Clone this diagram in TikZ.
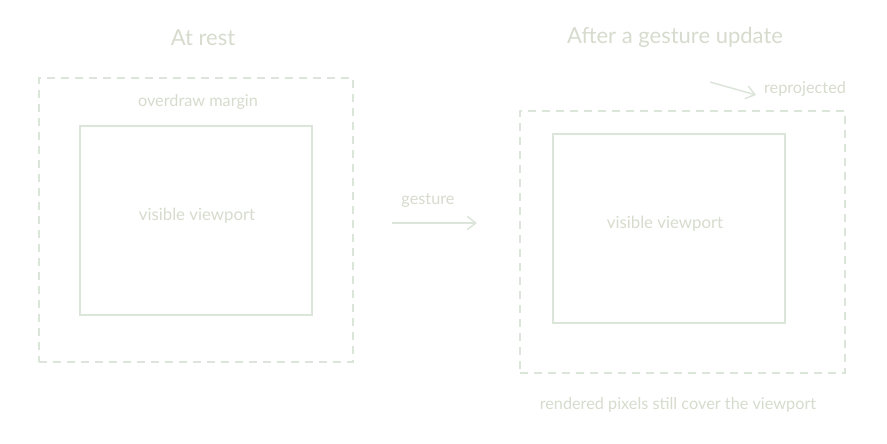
\documentclass[tikz,border=0pt]{standalone}
\usepackage{fontspec}
\setsansfont{Lato}
\usepackage{xcolor}
\usetikzlibrary{arrows.meta}
\definecolor{sketchline}{HTML}{DCE5DA}
\definecolor{sketchtext}{HTML}{D6DBCD}

\begin{document}
\begin{tikzpicture}[x=0.75pt,y=-0.75pt,font=\sffamily,line width=1pt,
  title/.style={text=sketchtext,font=\sffamily\fontsize{16.5}{19}\selectfont},
  note/.style={text=sketchtext,font=\sffamily\fontsize{12.2}{14}\selectfont},
  marginbox/.style={draw=sketchline,dash pattern=on 6pt off 4.5pt,inner sep=0pt,minimum width=#1},
  viewbox/.style={draw=sketchline,inner sep=0pt,minimum width=174pt,minimum height=141.75pt},
  viewlabel/.style={text=sketchtext,font=\sffamily\fontsize{12.6}{15}\selectfont},
  flow/.style={draw=sketchline,line width=1.1pt,-{Straight Barb[length=6.5pt,width=10pt]}}]
\useasboundingbox (0,0) rectangle (887,443);
\node[title] (restTitle) at (203,38) {At rest};
\node[marginbox=235.5pt,minimum height=213pt] (restMargin) at (196,220) {};
\node[note] (restMarginLabel) at (198,102) {overdraw margin};
\node[viewbox] (restView) at (196,220.5) {};
\node[viewlabel] (restViewLabel) at (197,216) {visible viewport};
\node[title] (afterTitle) at (675,37) {After a gesture update};
\node[marginbox=243.75pt,minimum height=196.5pt] (afterMargin) at (682.5,242) {};
\node[viewbox] (afterView) at (669,228.5) {};
\node[viewlabel] (afterViewLabel) at (665,224) {visible viewport};
\node[note] (reprojLabel) at (805,89) {reprojected};
\node[note] (coverLabel) at (678,405) {rendered pixels still cover the viewport};
\node[note] (gestureLabel) at (428,201) {gesture};
\coordinate (gestureStart) at (392,223);
\coordinate (gestureEnd) at (477,223);
\coordinate (reprojStart) at (710,82);
\coordinate (reprojEnd) at (756,95);
\draw[flow] (gestureStart) -- (gestureEnd);
\draw[flow] (reprojStart) -- (reprojEnd);
\end{tikzpicture}
\end{document}
